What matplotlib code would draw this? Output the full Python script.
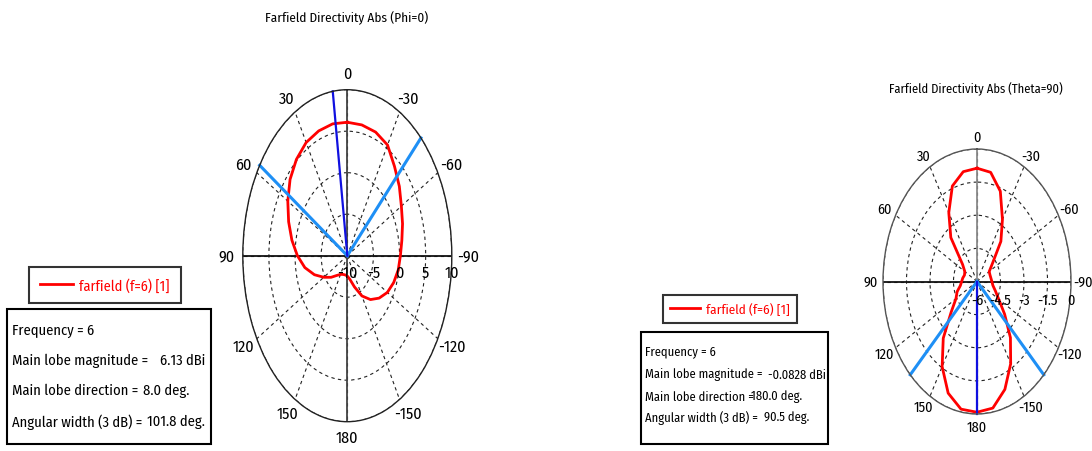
import numpy as np
import matplotlib.pyplot as plt
from matplotlib.patches import Rectangle

plt.rcParams['font.family'] = ['Fira Sans Condensed', 'DejaVu Sans']

W, H = 1092, 452

# cut at Phi=0: angle (deg, CST sign convention) and directivity (dBi)
phi0_angle = [0, 10, 20, 30, 40, 50, 60, 70, 80, 90, 100, 110, 120, 130, 140, 150, 160, 170, 180,
              -170, -160, -150, -140, -130, -120, -110, -100, -90, -80, -70, -60, -50, -40, -30, -20, -10, 0]
phi0_dbi = [6.08, 6.13, 6.0, 5.75, 5.15, 4.3, 3.15, 1.95, 0.77, -0.45, -1.75, -3.3, -4.8, -5.95, -6.9, -7.4, -7.6, -7.65, -7.55,
            -7.1, -6.0, -4.4, -3.1, -2.05, -1.15, -0.55, -0.1, 0.16, 0.6, 1.25, 1.95, 3.0, 4.05, 5.4, 5.85, 6.0, 6.08]
phi0_freq = 6
phi0_main_dbi = 6.13
phi0_main_dir = 8.0
phi0_width = 101.8
phi0_edges = [57.0, -44.8]
phi0_rticks = [-10, -5, 0, 5, 10]

# cut at Theta=90
th90_angle = phi0_angle
th90_dbi = [-0.87, -0.95, -1.4, -2.4, -3.4, -4.8, -5.1, -5.15, -5.08, -5.02, -4.92, -4.65, -4.45, -3.85, -2.65, -1.55, -0.62, -0.13, -0.08,
            -0.18, -0.8, -1.7, -2.68, -3.7, -4.4, -4.75, -4.97, -5.05, -5.1, -5.12, -5.1, -4.7, -3.63, -2.75, -1.65, -0.98, -0.87]
th90_freq = 6
th90_main_dbi = -0.0828
th90_main_dir = 180.0
th90_width = 90.5
th90_edges = [134.75, -134.75]
th90_rticks = [-6, -4.5, -3, -1.5, 0]

theta_ticks = [0, 30, 60, 90, 120, 150, 180, 210, 240, 270, 300, 330]
theta_labels = ['0', '30', '60', '90', '120', '150', '180', '-150', '-120', '-90', '-60', '-30']


def px(x, y):
    return x / W, 1 - y / H


def rect(x0, y0, x1, y1):
    return [x0 / W, 1 - y1 / H, (x1 - x0) / W, (y1 - y0) / H]


def polar_panel(fig, box, angles, dbi, rticks, main_dir, edges, fs, pad, roff, vcolor, ecolor):
    ax = fig.add_axes(box, projection='polar')
    ax.set_aspect('auto')
    ax.set_theta_zero_location('N')
    ax.set_theta_direction(1)
    ax.set_ylim(rticks[0], rticks[-1])
    ax.set_thetagrids(theta_ticks, theta_labels, fontsize=fs)
    ax.set_rgrids(rticks, labels=[''] * len(rticks))
    ax.grid(True, color='#222222', linestyle=(0, (3, 3)), linewidth=0.8)
    ax.tick_params(axis='x', pad=pad)
    ax.spines['polar'].set_linewidth(1.0)
    ax.spines['polar'].set_color(ecolor)
    rmin, rmax = rticks[0], rticks[-1]

    # axis cross
    ax.plot(np.radians([0, 0, 180, 180]), [rmax, rmin, rmin, rmax], color=vcolor, lw=1.3)
    ax.plot(np.radians([90, 90, 270, 270]), [rmax, rmin, rmin, rmax], color='#111111', lw=1.3)

    line, = ax.plot(np.radians(angles), dbi, color='#ff0000', lw=2.0, label='farfield (f=6) [1]')

    for e in edges:
        ax.plot(np.radians([e, e]), [rmin, rmax], color='#1e8ff5', lw=2.2, clip_on=False)
    ax.plot(np.radians([main_dir, main_dir]), [rmin, rmax], color='#1010e0', lw=1.6, clip_on=False)

    for r in rticks:
        ax.annotate('%g' % r, xy=(np.radians(-90), r), xytext=(0, -roff), textcoords='offset points',
                    ha='center', va='top', fontsize=fs, annotation_clip=False)
    return ax, line


fig = plt.figure(figsize=(W / 100, H / 100), dpi=100)

# Phi=0 panel
ax1, l1 = polar_panel(fig, rect(242.8, 90.7, 451.8, 422.7), phi0_angle, phi0_dbi, phi0_rticks,
                      phi0_main_dir, phi0_edges, 11.5, 1.0, 6, '#444444', '#222222')
fig.text(*px(347, 18), 'Farfield Directivity Abs (Phi=0)', ha='center', va='center', fontsize=9.5)
leg1 = fig.legend(handles=[l1], loc='center', bbox_to_anchor=px(105, 286), fancybox=False,
                  edgecolor='black', labelcolor='red', fontsize=10.3, handlelength=2.3,
                  borderpad=0.75, handletextpad=0.45)
leg1.get_frame().set_linewidth(1.5)
fig.patches.append(Rectangle(px(7, 445), 204 / W, 135 / H, transform=fig.transFigure,
                             fill=False, ec='black', lw=1.5))
fs = 10.5
fig.text(*px(12, 331), 'Frequency = %g' % phi0_freq, va='center', fontsize=fs)
fig.text(*px(12, 361), 'Main lobe magnitude =', va='center', fontsize=fs)
fig.text(*px(160, 361), '%.2f dBi' % phi0_main_dbi, va='center', fontsize=fs)
fig.text(*px(12, 391), 'Main lobe direction =', va='center', fontsize=fs)
fig.text(*px(143, 391), '%.1f deg.' % phi0_main_dir, va='center', fontsize=fs)
fig.text(*px(12, 422), 'Angular width (3 dB) =', va='center', fontsize=fs)
fig.text(*px(147, 422), '%.1f deg.' % phi0_width, va='center', fontsize=fs)

# Theta=90 panel
ax2, l2 = polar_panel(fig, rect(883, 150, 1071, 415), th90_angle, th90_dbi, th90_rticks,
                      th90_main_dir, th90_edges, 10.3, -1.5, 8, '#8a8a8a', '#555555')
fig.text(*px(976, 89), 'Farfield Directivity Abs (Theta=90)', ha='center', va='center', fontsize=9)
leg2 = fig.legend(handles=[l2], loc='center', bbox_to_anchor=px(730, 310), fancybox=False,
                  edgecolor='black', labelcolor='red', fontsize=9.5, handlelength=2.3,
                  borderpad=0.55, handletextpad=0.45)
leg2.get_frame().set_linewidth(1.5)
fig.patches.append(Rectangle(px(641, 445), 187 / W, 112 / H, transform=fig.transFigure,
                             fill=False, ec='black', lw=1.5))
fs = 9.0
fig.text(*px(645, 352), 'Frequency = %g' % th90_freq, va='center', fontsize=fs)
fig.text(*px(645, 375), 'Main lobe magnitude =', va='center', fontsize=fs)
fig.text(*px(768, 375), '%.4f dBi' % th90_main_dbi, va='center', fontsize=fs)
fig.text(*px(645, 397), 'Main lobe direction =', va='center', fontsize=fs)
fig.text(*px(751, 397), '%.1f deg.' % th90_main_dir, va='center', fontsize=fs)
fig.text(*px(645, 418), 'Angular width (3 dB) =', va='center', fontsize=fs)
fig.text(*px(764, 418), '%.1f deg.' % th90_width, va='center', fontsize=fs)

fig.savefig('out.png', dpi=100)
